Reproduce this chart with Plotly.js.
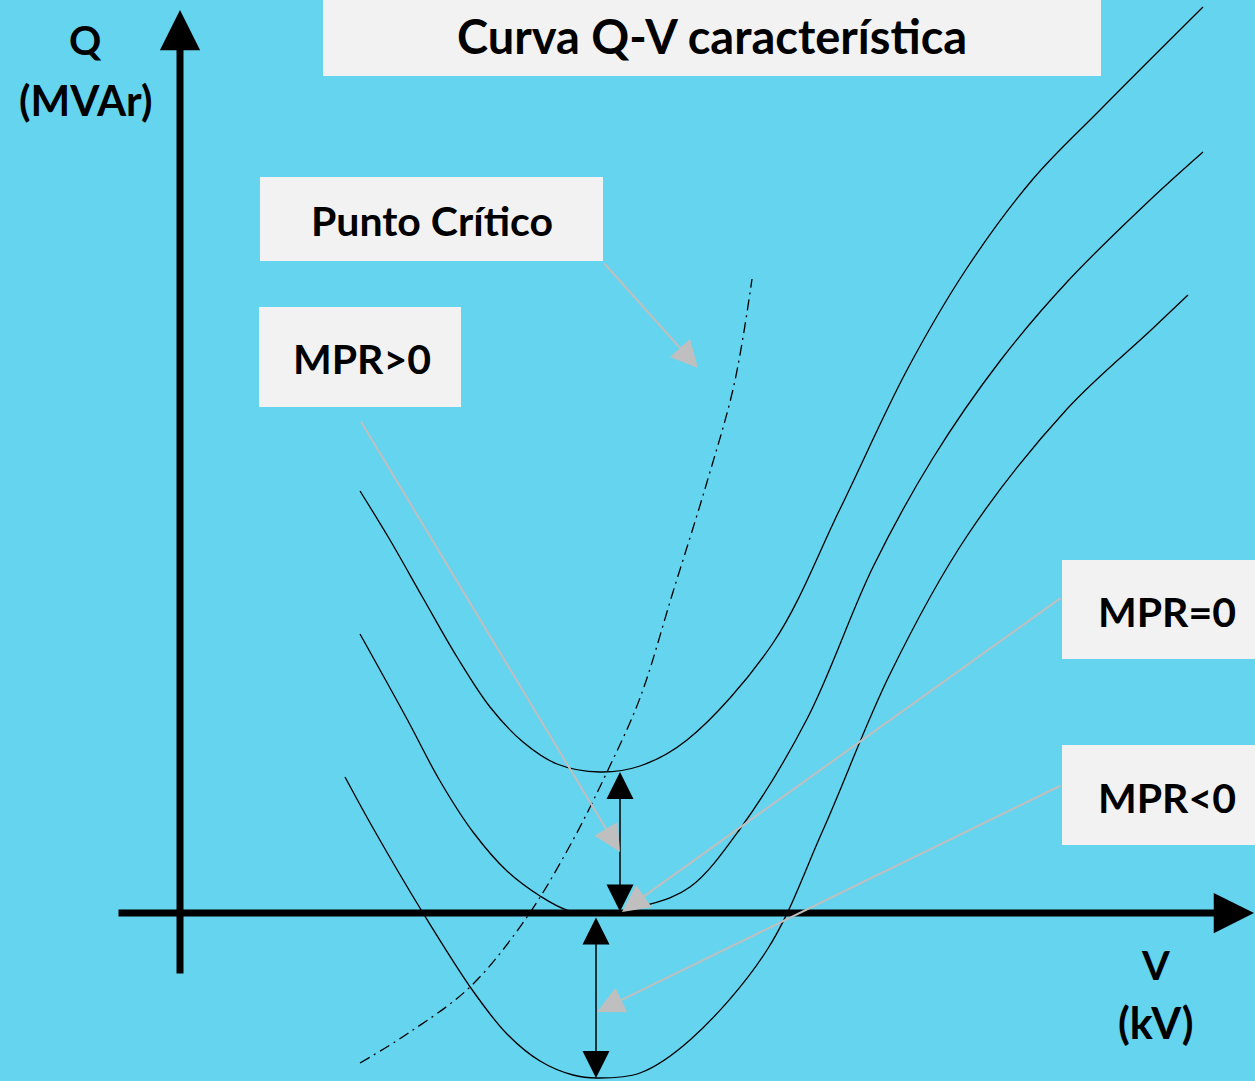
<!DOCTYPE html>
<html>
<head>
<meta charset="utf-8">
<script src="https://cdn.plot.ly/plotly-3.0.1.min.js"></script>
<style>html,body{margin:0;padding:0;background:rgb(100,212,239);}#chart{width:1255px;height:1081px;}</style>
</head>
<body>
<div id="chart"></div>
<script>
// ---- Data (V, Q in diagram units; origin at the axes crossing) ----
const curveA_V = [1.80, 2.10, 2.43, 2.77, 3.10, 3.43, 3.77, 4.20, 4.60, 5.07, 5.93, 6.60, 7.27, 7.87, 8.53, 9.20, 10.23];
const curveA_Q = [4.22, 3.73, 3.15, 2.56, 2.06, 1.71, 1.49, 1.41, 1.47, 1.73, 2.70, 4.04, 5.43, 6.45, 7.34, 8.03, 9.06];

const curveB_V = [1.80, 2.27, 2.60, 2.93, 3.27, 3.60, 3.87, 4.20, 4.67, 5.10, 5.60, 6.27, 6.93, 7.53, 8.20, 8.87, 9.70, 10.23];
const curveB_Q = [2.79, 1.94, 1.32, 0.81, 0.42, 0.17, 0.03, 0.00, 0.08, 0.26, 0.84, 1.94, 3.46, 4.55, 5.52, 6.31, 7.13, 7.61];

const curveC_V = [1.65, 1.93, 2.43, 2.93, 3.27, 3.60, 3.93, 4.17, 4.60, 5.10, 5.87, 6.43, 7.10, 7.87, 8.87, 9.70, 10.08];
const curveC_Q = [1.36, 0.85, 0.00, -0.78, -1.21, -1.48, -1.62, -1.65, -1.60, -1.27, -0.37, 0.83, 2.39, 3.77, 5.04, 5.82, 6.18];

const critical_V = [1.80, 2.27, 2.90, 3.47, 3.93, 4.27, 4.60, 4.93, 5.27, 5.54, 5.72];
const critical_Q = [-1.50, -1.21, -0.74, -0.04, 0.73, 1.41, 2.15, 3.21, 4.31, 5.28, 6.34];

// stability-margin arrows: [V, Q top, Q bottom]
const marginPos = [4.40, 1.41, 0.00];
const marginNeg = [4.16, -0.03, -1.65];

// labels
const titleText = "Curva Q-V característica";
const labelTexts = ["Punto Crítico", "MPR>0", "MPR=0", "MPR<0"];
const axisQText = ["Q", "(MVAr)"];
const axisVText = ["V", "(kV)"];

// ---- Styles ----
const BG = 'rgb(100,212,239)';
const BOX = '#F2F2F2';
const GRAY = '#BFBFBF';
const FONT = 'Lato, "Open Sans", sans-serif';

const curveLine = {color: '#000', width: 1.3, shape: 'spline', smoothing: 1};
const traces = [
  {x: curveA_V, y: curveA_Q, mode: 'lines', line: curveLine, hoverinfo: 'skip'},
  {x: curveB_V, y: curveB_Q, mode: 'lines', line: curveLine, hoverinfo: 'skip'},
  {x: curveC_V, y: curveC_Q, mode: 'lines', line: curveLine, hoverinfo: 'skip'},
  {x: critical_V, y: critical_Q, mode: 'lines', line: {color: '#000', width: 1.3, shape: 'spline', smoothing: 1, dash: '11px,5px,2px,5px'}, hoverinfo: 'skip'}
];

function rect(x0, x1, y0, y1) {
  return {type: 'rect', xref: 'x', yref: 'y', x0: x0, x1: x1, y0: y0, y1: y1, fillcolor: BOX, line: {width: 0}, layer: 'below'};
}
const shapes = [
  rect(1.43, 9.21, 8.37, 9.20),
  rect(0.80, 4.23, 6.52, 7.36),
  rect(0.79, 2.81, 5.06, 6.06),
  rect(8.82, 10.80, 2.54, 3.53),
  rect(8.82, 10.80, 0.68, 1.68)
];

function txt(x, y, t, size) {
  return {x: x, y: y, xref: 'x', yref: 'y', text: '<b>' + t + '</b>', showarrow: false,
          xanchor: 'center', yanchor: 'middle', font: {family: FONT, size: size, color: '#000'}};
}
function arrow(x, y, ax, ay, color, width, size, both) {
  const a = {x: x, y: y, ax: ax, ay: ay, xref: 'x', yref: 'y', axref: 'x', ayref: 'y', text: '',
             showarrow: true, arrowhead: 2, arrowsize: size, arrowwidth: width, arrowcolor: color, standoff: 0};
  if (both) { a.arrowside = 'end+start'; a.startarrowhead = 2; a.startarrowsize = size; a.startstandoff = 0; }
  return a;
}

const annotations = [
  // axes
  arrow(0, 9.03, 0, -0.62, '#000', 7, 1.15, false),
  arrow(10.74, 0, -0.63, 0, '#000', 7, 1.15, false),
  // margin double arrows
  arrow(marginPos[0], marginPos[1], marginPos[0], marginPos[2], '#000', 1.5, 3.6, true),
  arrow(marginNeg[0], marginNeg[2], marginNeg[0], marginNeg[1], '#000', 1.5, 3.6, true),
  // gray callout arrows
  arrow(5.18, 5.45, 4.23, 6.51, GRAY, 2, 2.7, false),
  arrow(4.40, 0.61, 1.80, 4.93, GRAY, 2, 2.7, false),
  arrow(4.42, 0.01, 8.82, 3.16, GRAY, 2, 2.7, false),
  arrow(4.17, -0.99, 8.82, 1.28, GRAY, 2, 2.7, false),
  // texts
  txt(5.32, 8.77, titleText, 47),
  txt(2.52, 6.93, labelTexts[0], 41),
  txt(1.82, 5.55, labelTexts[1], 41),
  txt(9.87, 3.02, labelTexts[2], 41),
  txt(9.87, 1.16, labelTexts[3], 41),
  txt(-0.95, 8.73, axisQText[0], 40),
  txt(-0.95, 8.13, axisQText[1], 42),
  txt(9.75, -0.52, axisVText[0], 40),
  txt(9.75, -1.09, axisVText[1], 43)
];

const layout = {
  width: 1255, height: 1081,
  margin: {l: 0, r: 0, t: 0, b: 0, pad: 0},
  paper_bgcolor: BG, plot_bgcolor: BG,
  showlegend: false,
  xaxis: {range: [-1.8, 10.75], visible: false, fixedrange: true},
  yaxis: {range: [-1.68, 9.13], visible: false, fixedrange: true},
  shapes: shapes,
  annotations: annotations
};

Plotly.newPlot('chart', traces, layout, {displayModeBar: false, staticPlot: true});
</script>
</body>
</html>
